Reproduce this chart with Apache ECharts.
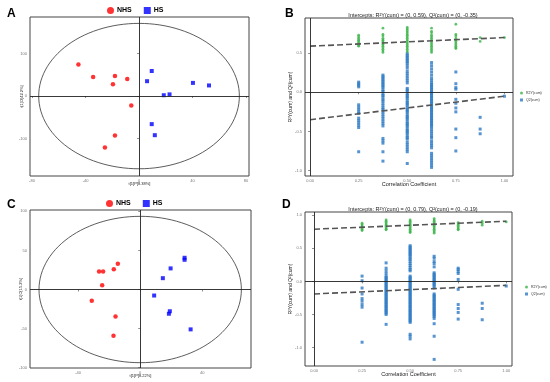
<!DOCTYPE html>
<html><head><meta charset="utf-8">
<script src="https://cdn.jsdelivr.net/npm/echarts@6/dist/echarts.min.js"></script>
<style>html,body{margin:0;padding:0;background:#fff}#c{width:550px;height:382px}</style>
</head><body><div id="c"></div>
<script>
// ---------- DATA ----------
// Panel A score plot
const aNHS = [[-45.3,74],[-34.3,45],[-18,47],[-19.5,28],[-8.8,40],[-5.8,-22],[-18,-93],[-25.5,-121]];
const aHS  = [[9.5,59],[6,35],[18.5,2],[22.8,4],[40.3,31],[52.3,25],[9.5,-66],[11.8,-92]];
const aEllipse = [75, 171];
const aXTicks = [-80,-40,0,40,80];
const aYTicks = [-100,0,100];
// Panel C score plot
const cNHS = [[-26.5,23],[-23.9,23],[-17,26],[-14.4,33],[-24.5,5.5],[-31.2,-14.5],[-15.9,-34.6],[-17.2,-59]];
const cHS  = [[28.6,40.6],[28.6,38],[19.6,27],[14.6,14.5],[9,-7.7],[19.1,-27.8],[18.5,-31],[32.5,-51]];
const cEllipse = [65.2, 93.6];
const cXTicks = [-40,0,40];
const cYTicks = [-100,-50,0,50,100];
// Permutation tests (B, D)
const permX = [0.25,0.375,0.5,0.625,0.75,0.875,1.0];
const permXTicks = [0,0.25,0.5,0.75,1.0];
const bR2 = [
  [0.73,0.71,0.69,0.67,0.66,0.64,0.62,0.60,0.59],
  [0.82,0.74,0.72,0.69,0.67,0.66,0.64,0.62,0.61,0.59,0.57,0.55,0.53,0.51],
  [0.83,0.81,0.79,0.77,0.75,0.73,0.71,0.69,0.67,0.65,0.63,0.61,0.59,0.57,0.55,0.53,0.51],
  [0.82,0.78,0.76,0.73,0.71,0.69,0.67,0.65,0.63,0.61,0.59,0.57,0.55,0.53,0.51],
  [0.87,0.74,0.72,0.69,0.67,0.65,0.63,0.61,0.59,0.57,0.56],
  [0.70,0.65],
  [0.70]
];
const bQ2 = [
  [0.13,0.11,0.09,0.07,-0.16,-0.19,-0.22,-0.25,-0.27,-0.33,-0.36,-0.39,-0.42,-0.45,-0.76],
  [0.22,0.20,0.18,0.16,0.14,0.12,0.10,0.08,0.06,0.03,0.01,-0.02,-0.04,-0.06,-0.09,-0.11,-0.14,-0.17,-0.20,-0.22,-0.25,-0.28,-0.31,-0.34,-0.37,-0.40,-0.43,-0.59,-0.62,-0.65,-0.76,-0.88],
  [0.49,0.47,0.45,0.43,0.41,0.39,0.37,0.34,0.31,0.27,0.24,0.21,0.18,0.15,0.12,0.05,0.03,0.01,-0.02,-0.04,-0.06,-0.08,-0.11,-0.13,-0.15,-0.17,-0.20,-0.22,-0.24,-0.26,-0.29,-0.31,-0.33,-0.35,-0.38,-0.40,-0.42,-0.44,-0.47,-0.49,-0.51,-0.53,-0.56,-0.58,-0.60,-0.64,-0.67,-0.70,-0.73,-0.76,-0.91],
  [0.38,0.34,0.30,0.26,0.22,0.18,0.15,0.12,0.10,0.08,0.06,0.04,0.02,0.00,-0.02,-0.04,-0.06,-0.08,-0.10,-0.12,-0.14,-0.16,-0.18,-0.20,-0.22,-0.24,-0.26,-0.28,-0.30,-0.32,-0.34,-0.36,-0.38,-0.40,-0.42,-0.44,-0.47,-0.50,-0.53,-0.56,-0.58,-0.62,-0.65,-0.68,-0.71,-0.78,-0.81,-0.84,-0.87,-0.90,-0.93,-0.96],
  [0.26,0.11,0.06,0.04,-0.09,-0.14,-0.20,-0.25,-0.47,-0.58,-0.75],
  [-0.32,-0.47,-0.53],
  [-0.05]
];
const bR2Line = [[0,0.59],[1,0.70]];
const bQ2Line = [[0,-0.35],[1,-0.05]];
const dR2 = [
  [0.88,0.86,0.84,0.82,0.80,0.78,0.77],
  [0.93,0.91,0.89,0.87,0.85,0.83,0.81,0.79,0.78],
  [0.93,0.91,0.89,0.87,0.85,0.83,0.81,0.79,0.77,0.75,0.74],
  [0.95,0.93,0.91,0.89,0.87,0.85,0.83,0.81,0.79,0.77,0.75,0.73],
  [0.89,0.87,0.85,0.83,0.81,0.79,0.78],
  [0.91,0.88,0.85],
  [0.90]
];
const dQ2 = [
  [0.08,0.01,-0.10,-0.19,-0.26,-0.30,-0.35,-0.39,-0.92],
  [0.28,0.20,0.16,0.12,0.08,0.06,0.04,0.02,0.00,-0.02,-0.04,-0.06,-0.08,-0.10,-0.12,-0.14,-0.16,-0.18,-0.20,-0.22,-0.24,-0.26,-0.28,-0.30,-0.32,-0.34,-0.36,-0.38,-0.40,-0.42,-0.44,-0.46,-0.48,-0.50,-0.65],
  [0.54,0.52,0.50,0.48,0.46,0.44,0.42,0.40,0.38,0.35,0.33,0.30,0.27,0.24,0.21,0.18,0.16,0.08,0.06,0.04,0.02,0.00,-0.02,-0.04,-0.06,-0.08,-0.10,-0.12,-0.14,-0.16,-0.18,-0.20,-0.22,-0.24,-0.26,-0.28,-0.30,-0.32,-0.34,-0.36,-0.38,-0.40,-0.42,-0.44,-0.46,-0.48,-0.50,-0.52,-0.54,-0.56,-0.58,-0.60,-0.62,-0.80,-0.83,-0.87],
  [0.38,0.35,0.30,0.27,0.22,0.13,0.11,0.09,0.07,0.05,0.03,0.01,-0.01,-0.03,-0.05,-0.07,-0.10,-0.19,-0.21,-0.23,-0.25,-0.27,-0.29,-0.31,-0.33,-0.35,-0.37,-0.39,-0.41,-0.43,-0.45,-0.47,-0.49,-0.51,-0.53,-0.56,-0.64,-0.83,-1.18],
  [0.20,0.18,0.15,0.12,0.03,-0.12,-0.35,-0.41,-0.47,-0.57],
  [-0.33,-0.41,-0.58],
  [-0.07]
];
const dR2Line = [[0,0.79],[1,0.91]];
const dQ2Line = [[0,-0.19],[1,-0.06]];
const bYTicks = [-1.0,-0.5,0,0.5];
const dYTicks = [-1.0,-0.5,0,0.5,1.0];

// ---------- BUILD ----------
const FONT = 'Liberation Sans, Arial, sans-serif';
function cols(arr){ const out=[]; arr.forEach((c,i)=>c.forEach(v=>out.push([permX[i],v]))); return out; }
function ellipse(r){ const p=[]; for(let t=0;t<=360;t+=3){const a=t*Math.PI/180;p.push([r[0]*Math.cos(a),r[1]*Math.sin(a)]);} return p; }
function axis(gi,min,max,ticks,fmt,name,nameGap,nameSize){
  return {type:'value',gridIndex:gi,min:min,max:max,
    axisLine:{show:false},splitLine:{show:false},
    axisTick:{show:true,length:2,customValues:ticks,lineStyle:{color:'#444',width:0.6}},
    axisLabel:{customValues:ticks,formatter:fmt,fontSize:4,color:'#777',margin:3,fontFamily:FONT},
    name:name,nameLocation:'middle',nameGap:nameGap,nameMoveOverlap:false,
    nameTextStyle:{fontSize:nameSize,color:'#222',fontFamily:FONT}};
}
const zeroLine = {silent:true,symbol:'none',label:{show:false},lineStyle:{color:'#222',width:0.9,type:'solid'},data:[{xAxis:0},{yAxis:0}]};
const gridBase = {show:true,borderColor:'#444',borderWidth:1,backgroundColor:'#fff',containLabel:false};
const fmt0 = v=>String(v);
const fmt2 = v=>v.toFixed(2);
const fmt1 = v=>v.toFixed(1);

const option = {
  backgroundColor:'#fff',
  animation:false,
  textStyle:{fontFamily:FONT},
  title:[
    {text:'A',left:2,top:3,textStyle:{fontSize:12,fontWeight:'bold',color:'#000'}},
    {text:'B',left:280,top:3,textStyle:{fontSize:12,fontWeight:'bold',color:'#000'}},
    {text:'C',left:2,top:194,textStyle:{fontSize:12,fontWeight:'bold',color:'#000'}},
    {text:'D',left:277,top:194,textStyle:{fontSize:12,fontWeight:'bold',color:'#000'}},
    {text:'Intercepts: R²Y(cum) = (0, 0.59), Q²(cum) = (0, -0.35)',left:408,top:7,textAlign:'center',textStyle:{fontSize:5.5,fontWeight:'normal',color:'#222'}},
    {text:'Intercepts: R²Y(cum) = (0, 0.79), Q²(cum) = (0, -0.19)',left:408,top:201,textAlign:'center',textStyle:{fontSize:5.5,fontWeight:'normal',color:'#222'}}
  ],
  legend:[
    {data:[{name:'NHS',icon:'circle'},{name:'HS',icon:'rect'}],left:107,top:7,itemWidth:7,itemHeight:7,itemGap:12,
     textStyle:{fontSize:7,fontWeight:'bold',color:'#000',padding:[0,0,0,-2]},padding:0},
    {data:[{name:'NHS',icon:'circle'},{name:'HS',icon:'rect'}],left:106,top:200,itemWidth:7,itemHeight:7,itemGap:12,
     textStyle:{fontSize:7,fontWeight:'bold',color:'#000',padding:[0,0,0,-2]},padding:0},
    {data:[{name:'R2Y(cum)',icon:'circle'},{name:'Q2(cum)',icon:'rect'}],orient:'vertical',left:520,top:91,itemWidth:3,itemHeight:3,itemGap:3,
     textStyle:{fontSize:3.5,color:'#333',padding:[0,0,0,-2]},padding:0},
    {data:[{name:'R2Y(cum)',icon:'circle'},{name:'Q2(cum)',icon:'rect'}],orient:'vertical',left:525,top:285,itemWidth:3,itemHeight:3,itemGap:3,
     textStyle:{fontSize:3.5,color:'#333',padding:[0,0,0,-2]},padding:0}
  ],
  grid:[
    Object.assign({left:30,top:17,width:219,height:159},gridBase),
    Object.assign({left:305,top:18,width:208,height:158},gridBase),
    Object.assign({left:30,top:210,width:221,height:158},gridBase),
    Object.assign({left:305,top:212,width:207,height:154},gridBase)
  ],
  xAxis:[
    axis(0,-81.5,82.2,aXTicks,fmt0,'t[1]P[8.38%]',6,4),
    axis(1,-0.026,1.044,permXTicks,fmt2,'Correlation Coefficient',5.5,5.5),
    axis(2,-71,71.4,cXTicks,fmt0,'t[1]P[8.22%]',6,4),
    axis(3,-0.047,1.03,permXTicks,fmt2,'Correlation Coefficient',5.5,5.5)
  ],
  yAxis:[
    axis(0,-188,186,aYTicks,fmt0,'t[1]O[42.2%]',6,4),
    axis(1,-1.07,0.95,bYTicks,fmt1,'R²Y(cum) and Q²(cum)',12,5),
    axis(2,-100.4,101.7,cYTicks,fmt0,'t[1]O[15.2%]',7,4),
    axis(3,-1.28,1.05,dYTicks,fmt1,'R²Y(cum) and Q²(cum)',12,5)
  ],
  series:[
    // A
    {type:'line',xAxisIndex:0,yAxisIndex:0,data:ellipse(aEllipse),symbol:'none',silent:true,lineStyle:{color:'#333',width:0.8},markLine:zeroLine,z:1},
    {name:'NHS',type:'scatter',xAxisIndex:0,yAxisIndex:0,data:aNHS,symbol:'circle',symbolSize:4.5,itemStyle:{color:'#ff0000'},z:3},
    {name:'HS',type:'scatter',xAxisIndex:0,yAxisIndex:0,data:aHS,symbol:'rect',symbolSize:4,itemStyle:{color:'#0000ff'},z:3},
    // C
    {type:'line',xAxisIndex:2,yAxisIndex:2,data:ellipse(cEllipse),symbol:'none',silent:true,lineStyle:{color:'#333',width:0.8},markLine:zeroLine,z:1},
    {name:'NHS',type:'scatter',xAxisIndex:2,yAxisIndex:2,data:cNHS,symbol:'circle',symbolSize:4.5,itemStyle:{color:'#ff0000'},z:3},
    {name:'HS',type:'scatter',xAxisIndex:2,yAxisIndex:2,data:cHS,symbol:'rect',symbolSize:4,itemStyle:{color:'#0000ff'},z:3},
    // B
    {name:'R2Y(cum)',type:'scatter',xAxisIndex:1,yAxisIndex:1,data:cols(bR2),symbol:'circle',symbolSize:2.8,itemStyle:{color:'#3cb44b'},markLine:zeroLine,z:3},
    {name:'Q2(cum)',type:'scatter',xAxisIndex:1,yAxisIndex:1,data:cols(bQ2),symbol:'rect',symbolSize:3,itemStyle:{color:'#2e7bc4'},z:3},
    {type:'line',xAxisIndex:1,yAxisIndex:1,data:bR2Line,symbol:'none',silent:true,lineStyle:{color:'#555',width:1.6,type:[6,3]},z:4},
    {type:'line',xAxisIndex:1,yAxisIndex:1,data:bQ2Line,symbol:'none',silent:true,lineStyle:{color:'#555',width:1.6,type:[6,3]},z:4},
    // D
    {name:'R2Y(cum)',type:'scatter',xAxisIndex:3,yAxisIndex:3,data:cols(dR2),symbol:'circle',symbolSize:2.8,itemStyle:{color:'#3cb44b'},markLine:zeroLine,z:3},
    {name:'Q2(cum)',type:'scatter',xAxisIndex:3,yAxisIndex:3,data:cols(dQ2),symbol:'rect',symbolSize:3,itemStyle:{color:'#2e7bc4'},z:3},
    {type:'line',xAxisIndex:3,yAxisIndex:3,data:dR2Line,symbol:'none',silent:true,lineStyle:{color:'#555',width:1.6,type:[6,3]},z:4},
    {type:'line',xAxisIndex:3,yAxisIndex:3,data:dQ2Line,symbol:'none',silent:true,lineStyle:{color:'#555',width:1.6,type:[6,3]},z:4}
  ]
};
const chart = echarts.init(document.getElementById('c'),null,{renderer:'canvas'});
chart.setOption(option);
</script>
</body></html>
